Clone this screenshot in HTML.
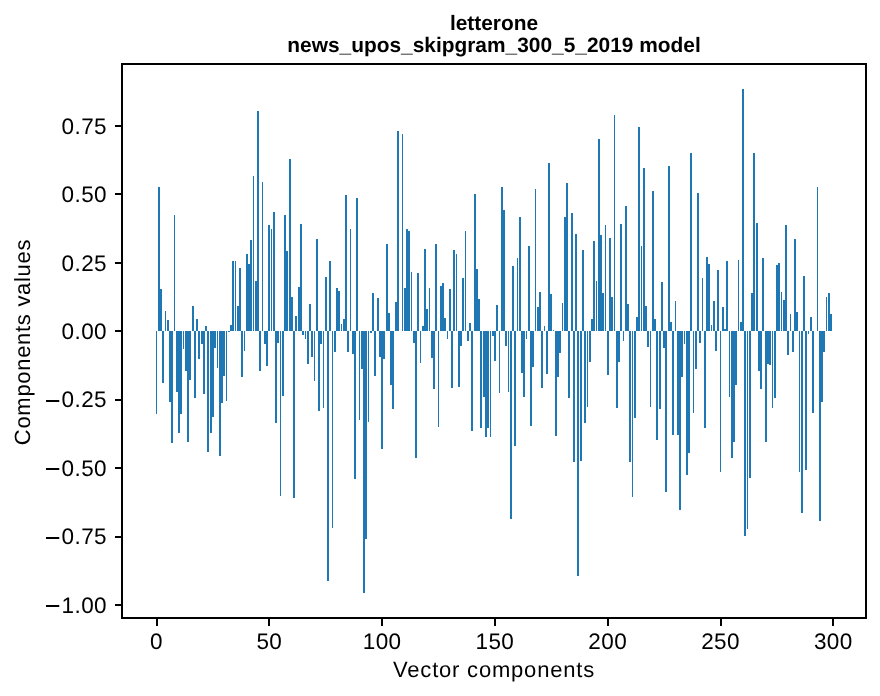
<!DOCTYPE html>
<html><head><meta charset="utf-8"><style>
html,body{margin:0;padding:0;background:#fff;overflow:hidden;}
svg{display:block;will-change:transform;}
.tk{font-family:"Liberation Sans",sans-serif;font-size:22.5px;letter-spacing:0.4px;fill:#000;text-rendering:geometricPrecision;}
.lb{font-family:"Liberation Sans",sans-serif;font-size:22px;letter-spacing:0.8px;fill:#000;text-rendering:geometricPrecision;}
.tt{font-family:"Liberation Sans",sans-serif;font-size:20.9px;font-weight:bold;fill:#000;text-rendering:geometricPrecision;}
</style></head><body>
<svg width="880" height="696" viewBox="0 0 880 696">
<rect x="0" y="0" width="880" height="696" fill="#fff"/>
<g fill="#1f77b4" shape-rendering="crispEdges">
<rect x="156" y="331" width="1" height="83"/><rect x="158" y="187" width="2" height="144"/><rect x="160" y="289" width="2" height="42"/><rect x="162" y="331" width="2" height="52"/><rect x="165" y="311" width="1" height="20"/><rect x="167" y="320" width="2" height="11"/><rect x="169" y="331" width="2" height="71"/><rect x="171" y="331" width="2" height="112"/><rect x="174" y="215" width="1" height="116"/><rect x="176" y="331" width="2" height="61"/><rect x="178" y="331" width="2" height="102"/><rect x="180" y="331" width="2" height="83"/><rect x="183" y="331" width="1" height="18"/><rect x="185" y="331" width="2" height="40"/><rect x="187" y="331" width="2" height="111"/><rect x="189" y="331" width="2" height="49"/><rect x="192" y="306" width="2" height="25"/><rect x="194" y="331" width="2" height="67"/><rect x="196" y="319" width="2" height="12"/><rect x="198" y="331" width="2" height="28"/><rect x="201" y="331" width="2" height="13"/><rect x="203" y="331" width="2" height="63"/><rect x="205" y="326" width="2" height="5"/><rect x="207" y="331" width="2" height="121"/><rect x="210" y="331" width="2" height="102"/><rect x="212" y="331" width="2" height="86"/><rect x="214" y="331" width="2" height="17"/><rect x="217" y="331" width="1" height="37"/><rect x="219" y="331" width="2" height="125"/><rect x="221" y="331" width="2" height="72"/><rect x="223" y="331" width="2" height="45"/><rect x="226" y="331" width="1" height="70"/><rect x="228" y="331" width="2" height="1"/><rect x="230" y="325" width="2" height="6"/><rect x="232" y="261" width="2" height="70"/><rect x="235" y="261" width="1" height="70"/><rect x="237" y="306" width="2" height="25"/><rect x="239" y="268" width="2" height="63"/><rect x="241" y="331" width="2" height="46"/><rect x="244" y="331" width="1" height="20"/><rect x="246" y="254" width="2" height="77"/><rect x="248" y="264" width="2" height="67"/><rect x="250" y="240" width="2" height="91"/><rect x="253" y="176" width="1" height="155"/><rect x="255" y="281" width="2" height="50"/><rect x="257" y="111" width="2" height="220"/><rect x="259" y="331" width="2" height="40"/><rect x="262" y="182" width="1" height="149"/><rect x="264" y="331" width="2" height="13"/><rect x="266" y="331" width="2" height="35"/><rect x="268" y="225" width="2" height="106"/><rect x="271" y="229" width="1" height="102"/><rect x="273" y="212" width="2" height="119"/><rect x="275" y="331" width="2" height="92"/><rect x="277" y="331" width="2" height="12"/><rect x="280" y="331" width="1" height="165"/><rect x="282" y="331" width="2" height="65"/><rect x="284" y="215" width="2" height="116"/><rect x="286" y="251" width="2" height="80"/><rect x="289" y="159" width="2" height="172"/><rect x="291" y="297" width="2" height="34"/><rect x="293" y="331" width="2" height="167"/><rect x="295" y="316" width="2" height="15"/><rect x="298" y="287" width="2" height="44"/><rect x="300" y="224" width="2" height="107"/><rect x="302" y="331" width="2" height="4"/><rect x="305" y="331" width="1" height="8"/><rect x="307" y="331" width="2" height="33"/><rect x="309" y="304" width="2" height="27"/><rect x="311" y="331" width="2" height="26"/><rect x="314" y="331" width="1" height="50"/><rect x="316" y="239" width="2" height="92"/><rect x="318" y="331" width="2" height="80"/><rect x="320" y="331" width="2" height="13"/><rect x="323" y="331" width="1" height="77"/><rect x="325" y="277" width="2" height="54"/><rect x="327" y="331" width="2" height="250"/><rect x="329" y="261" width="2" height="70"/><rect x="332" y="331" width="1" height="197"/><rect x="334" y="331" width="2" height="21"/><rect x="336" y="288" width="2" height="43"/><rect x="338" y="291" width="2" height="40"/><rect x="341" y="324" width="1" height="7"/><rect x="343" y="319" width="2" height="12"/><rect x="345" y="195" width="2" height="136"/><rect x="347" y="331" width="2" height="21"/><rect x="350" y="229" width="1" height="102"/><rect x="352" y="331" width="2" height="23"/><rect x="354" y="331" width="2" height="148"/><rect x="356" y="198" width="2" height="133"/><rect x="359" y="331" width="1" height="89"/><rect x="361" y="331" width="2" height="38"/><rect x="363" y="331" width="2" height="262"/><rect x="365" y="331" width="2" height="208"/><rect x="368" y="331" width="1" height="91"/><rect x="370" y="331" width="2" height="2"/><rect x="372" y="293" width="2" height="38"/><rect x="374" y="331" width="2" height="45"/><rect x="377" y="298" width="2" height="33"/><rect x="379" y="331" width="2" height="26"/><rect x="381" y="331" width="2" height="118"/><rect x="383" y="331" width="2" height="28"/><rect x="386" y="244" width="2" height="87"/><rect x="388" y="313" width="2" height="18"/><rect x="390" y="331" width="2" height="54"/><rect x="392" y="331" width="2" height="78"/><rect x="395" y="302" width="2" height="29"/><rect x="397" y="131" width="2" height="200"/><rect x="402" y="134" width="1" height="197"/><rect x="404" y="288" width="2" height="43"/><rect x="406" y="229" width="2" height="102"/><rect x="408" y="231" width="2" height="100"/><rect x="411" y="272" width="1" height="59"/><rect x="413" y="331" width="2" height="12"/><rect x="415" y="331" width="2" height="127"/><rect x="417" y="273" width="2" height="58"/><rect x="420" y="331" width="1" height="32"/><rect x="422" y="326" width="2" height="5"/><rect x="424" y="249" width="2" height="82"/><rect x="426" y="309" width="2" height="22"/><rect x="429" y="288" width="1" height="43"/><rect x="431" y="331" width="2" height="27"/><rect x="433" y="331" width="2" height="58"/><rect x="435" y="244" width="2" height="87"/><rect x="438" y="331" width="1" height="96"/><rect x="440" y="286" width="2" height="45"/><rect x="442" y="283" width="2" height="48"/><rect x="444" y="318" width="2" height="13"/><rect x="447" y="331" width="1" height="8"/><rect x="449" y="289" width="2" height="42"/><rect x="451" y="331" width="2" height="57"/><rect x="453" y="250" width="2" height="81"/><rect x="456" y="254" width="1" height="77"/><rect x="458" y="331" width="2" height="56"/><rect x="460" y="331" width="2" height="15"/><rect x="462" y="278" width="2" height="53"/><rect x="465" y="231" width="1" height="100"/><rect x="467" y="331" width="2" height="10"/><rect x="469" y="323" width="2" height="8"/><rect x="471" y="331" width="2" height="100"/><rect x="474" y="194" width="2" height="137"/><rect x="476" y="269" width="2" height="62"/><rect x="478" y="299" width="2" height="32"/><rect x="480" y="331" width="2" height="97"/><rect x="483" y="331" width="2" height="66"/><rect x="485" y="331" width="2" height="106"/><rect x="487" y="331" width="2" height="97"/><rect x="490" y="331" width="1" height="106"/><rect x="492" y="331" width="2" height="5"/><rect x="494" y="331" width="2" height="30"/><rect x="496" y="305" width="2" height="26"/><rect x="499" y="331" width="1" height="62"/><rect x="501" y="187" width="2" height="144"/><rect x="503" y="210" width="2" height="121"/><rect x="505" y="331" width="2" height="15"/><rect x="508" y="331" width="1" height="61"/><rect x="510" y="331" width="2" height="188"/><rect x="512" y="266" width="2" height="65"/><rect x="514" y="331" width="2" height="115"/><rect x="517" y="258" width="1" height="73"/><rect x="519" y="217" width="2" height="114"/><rect x="521" y="331" width="2" height="42"/><rect x="523" y="331" width="2" height="66"/><rect x="526" y="331" width="1" height="8"/><rect x="528" y="246" width="2" height="85"/><rect x="530" y="331" width="2" height="95"/><rect x="532" y="331" width="2" height="36"/><rect x="535" y="189" width="1" height="142"/><rect x="537" y="307" width="2" height="24"/><rect x="539" y="292" width="2" height="39"/><rect x="541" y="331" width="2" height="57"/><rect x="544" y="326" width="1" height="5"/><rect x="546" y="331" width="2" height="43"/><rect x="548" y="163" width="2" height="168"/><rect x="550" y="294" width="2" height="37"/><rect x="553" y="330" width="1" height="1"/><rect x="555" y="331" width="2" height="105"/><rect x="557" y="331" width="2" height="46"/><rect x="559" y="331" width="2" height="22"/><rect x="562" y="303" width="1" height="28"/><rect x="564" y="217" width="2" height="114"/><rect x="566" y="183" width="2" height="148"/><rect x="568" y="331" width="2" height="67"/><rect x="571" y="213" width="2" height="118"/><rect x="573" y="331" width="2" height="131"/><rect x="575" y="234" width="2" height="97"/><rect x="577" y="331" width="2" height="245"/><rect x="580" y="331" width="2" height="130"/><rect x="582" y="250" width="2" height="81"/><rect x="584" y="331" width="2" height="92"/><rect x="587" y="331" width="1" height="76"/><rect x="589" y="331" width="2" height="31"/><rect x="591" y="319" width="2" height="12"/><rect x="593" y="241" width="2" height="90"/><rect x="596" y="281" width="1" height="50"/><rect x="598" y="139" width="2" height="192"/><rect x="600" y="235" width="2" height="96"/><rect x="602" y="293" width="2" height="38"/><rect x="605" y="225" width="1" height="106"/><rect x="607" y="331" width="2" height="44"/><rect x="609" y="238" width="2" height="93"/><rect x="611" y="297" width="2" height="34"/><rect x="614" y="115" width="1" height="216"/><rect x="616" y="331" width="2" height="77"/><rect x="618" y="331" width="2" height="31"/><rect x="620" y="224" width="2" height="107"/><rect x="623" y="331" width="1" height="10"/><rect x="625" y="206" width="2" height="125"/><rect x="627" y="304" width="2" height="27"/><rect x="629" y="331" width="2" height="131"/><rect x="632" y="331" width="1" height="166"/><rect x="634" y="331" width="2" height="87"/><rect x="636" y="317" width="2" height="14"/><rect x="638" y="127" width="2" height="204"/><rect x="641" y="246" width="1" height="85"/><rect x="643" y="168" width="2" height="163"/><rect x="645" y="306" width="2" height="25"/><rect x="647" y="331" width="2" height="16"/><rect x="650" y="331" width="1" height="76"/><rect x="652" y="191" width="2" height="140"/><rect x="654" y="319" width="2" height="12"/><rect x="656" y="331" width="2" height="109"/><rect x="659" y="331" width="2" height="78"/><rect x="661" y="282" width="2" height="49"/><rect x="663" y="331" width="2" height="17"/><rect x="665" y="331" width="2" height="161"/><rect x="668" y="166" width="2" height="165"/><rect x="670" y="322" width="2" height="9"/><rect x="672" y="331" width="2" height="104"/><rect x="675" y="301" width="1" height="30"/><rect x="677" y="331" width="2" height="104"/><rect x="679" y="331" width="2" height="179"/><rect x="681" y="331" width="2" height="46"/><rect x="684" y="331" width="1" height="13"/><rect x="686" y="331" width="2" height="144"/><rect x="688" y="331" width="2" height="122"/><rect x="690" y="153" width="2" height="178"/><rect x="693" y="331" width="1" height="82"/><rect x="695" y="331" width="2" height="38"/><rect x="697" y="193" width="2" height="138"/><rect x="699" y="331" width="2" height="12"/><rect x="702" y="278" width="1" height="53"/><rect x="704" y="331" width="2" height="97"/><rect x="706" y="257" width="2" height="74"/><rect x="708" y="264" width="2" height="67"/><rect x="711" y="325" width="1" height="6"/><rect x="713" y="301" width="2" height="30"/><rect x="715" y="331" width="2" height="20"/><rect x="717" y="270" width="2" height="61"/><rect x="720" y="331" width="1" height="141"/><rect x="722" y="307" width="2" height="24"/><rect x="724" y="329" width="2" height="2"/><rect x="726" y="261" width="2" height="70"/><rect x="729" y="331" width="1" height="66"/><rect x="731" y="331" width="2" height="127"/><rect x="733" y="331" width="2" height="111"/><rect x="735" y="331" width="2" height="54"/><rect x="738" y="260" width="1" height="71"/><rect x="740" y="322" width="2" height="9"/><rect x="742" y="89" width="2" height="242"/><rect x="744" y="331" width="2" height="205"/><rect x="747" y="331" width="1" height="198"/><rect x="749" y="331" width="2" height="147"/><rect x="751" y="293" width="2" height="38"/><rect x="753" y="153" width="2" height="178"/><rect x="756" y="223" width="2" height="108"/><rect x="758" y="331" width="2" height="40"/><rect x="760" y="331" width="2" height="58"/><rect x="762" y="258" width="2" height="73"/><rect x="765" y="331" width="2" height="111"/><rect x="767" y="331" width="2" height="33"/><rect x="769" y="331" width="2" height="34"/><rect x="772" y="331" width="1" height="77"/><rect x="774" y="331" width="2" height="67"/><rect x="776" y="265" width="2" height="66"/><rect x="778" y="263" width="2" height="68"/><rect x="781" y="292" width="1" height="39"/><rect x="783" y="300" width="2" height="31"/><rect x="785" y="225" width="2" height="106"/><rect x="787" y="331" width="2" height="24"/><rect x="790" y="314" width="1" height="17"/><rect x="792" y="331" width="2" height="21"/><rect x="794" y="239" width="2" height="92"/><rect x="796" y="312" width="2" height="19"/><rect x="799" y="331" width="1" height="141"/><rect x="801" y="331" width="2" height="182"/><rect x="803" y="276" width="2" height="55"/><rect x="805" y="331" width="2" height="139"/><rect x="808" y="331" width="1" height="3"/><rect x="810" y="317" width="2" height="14"/><rect x="812" y="331" width="2" height="82"/><rect x="817" y="187" width="1" height="144"/><rect x="819" y="331" width="2" height="190"/><rect x="821" y="331" width="2" height="71"/><rect x="823" y="331" width="2" height="21"/><rect x="826" y="297" width="1" height="34"/><rect x="828" y="293" width="2" height="38"/><rect x="830" y="314" width="2" height="17"/>
</g>
<g fill="#000" shape-rendering="crispEdges">
<rect x="121" y="63" width="2" height="556"/>
<rect x="865" y="63" width="2" height="556"/>
<rect x="121" y="63" width="746" height="2"/>
<rect x="121" y="617" width="746" height="2"/>
<rect x="115" y="125" width="7" height="2"/><rect x="115" y="193" width="7" height="2"/><rect x="115" y="262" width="7" height="2"/><rect x="115" y="330" width="7" height="2"/><rect x="115" y="399" width="7" height="2"/><rect x="115" y="467" width="7" height="2"/><rect x="115" y="536" width="7" height="2"/><rect x="115" y="604" width="7" height="2"/>
<rect x="156" y="619" width="2" height="7"/><rect x="268" y="619" width="2" height="7"/><rect x="381" y="619" width="2" height="7"/><rect x="494" y="619" width="2" height="7"/><rect x="607" y="619" width="2" height="7"/><rect x="720" y="619" width="2" height="7"/><rect x="832" y="619" width="2" height="7"/>
</g>
<g fill="#000"><rect x="46" y="400" width="13.25" height="2"/><rect x="46" y="468" width="13.25" height="2"/><rect x="46" y="537" width="13.25" height="2"/><rect x="46" y="605" width="13.25" height="2"/></g>
<text class="tk" x="107" y="133.6" text-anchor="end">0.75</text><text class="tk" x="107" y="202.0" text-anchor="end">0.50</text><text class="tk" x="107" y="270.5" text-anchor="end">0.25</text><text class="tk" x="107" y="338.9" text-anchor="end">0.00</text><text class="tk" x="107" y="407.3" text-anchor="end">0.25</text><text class="tk" x="107" y="475.7" text-anchor="end">0.50</text><text class="tk" x="107" y="544.2" text-anchor="end">0.75</text><text class="tk" x="107" y="612.6" text-anchor="end">1.00</text>
<text class="tk" x="156.5" y="649" text-anchor="middle">0</text><text class="tk" x="269.3" y="649" text-anchor="middle">50</text><text class="tk" x="382.1" y="649" text-anchor="middle">100</text><text class="tk" x="494.9" y="649" text-anchor="middle">150</text><text class="tk" x="607.7" y="649" text-anchor="middle">200</text><text class="tk" x="720.5" y="649" text-anchor="middle">250</text><text class="tk" x="833.3" y="649" text-anchor="middle">300</text>
<text class="lb" x="494" y="677" text-anchor="middle">Vector components</text>
<text class="lb" style="letter-spacing:0.7px" transform="translate(30,342) rotate(-90)" text-anchor="middle">Components values</text>
<text class="tt" x="494" y="30" text-anchor="middle">letterone</text>
<text class="tt" x="494" y="52" text-anchor="middle">news_upos_skipgram_300_5_2019 model</text>
</svg>
</body></html>
